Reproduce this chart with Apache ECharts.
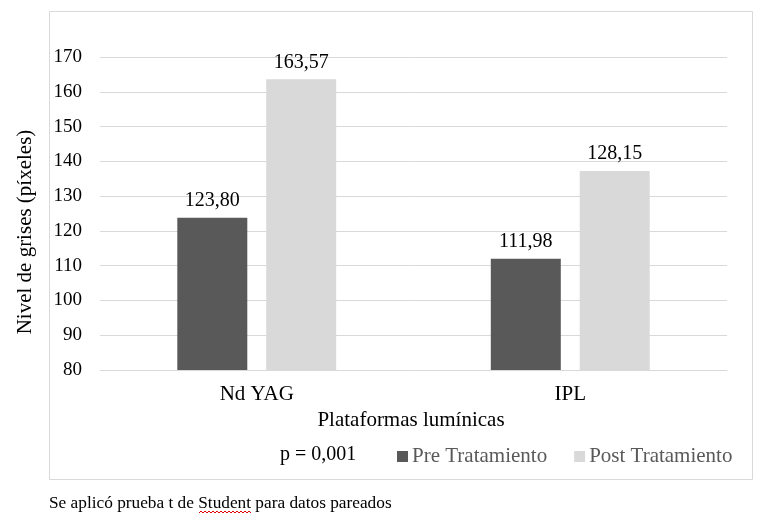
<!DOCTYPE html>
<html>
<head>
<meta charset="utf-8">
<script src="https://cdn.jsdelivr.net/npm/echarts@6/dist/echarts.min.js"></script>
<style>
  html, body { margin: 0; padding: 0; background: #fff; }
  #chart { width: 758px; height: 521px; }
</style>
</head>
<body>
<div id="chart"></div>
<script>
  // datos
  var categories = ['Nd YAG', 'IPL'];
  var preValues = [123.80, 111.98];
  var postValues = [163.57, 137.2];   // altura dibujada de la barra
  var preLabels = ['123,80', '111,98'];
  var postLabels = ['163,57', '128,15'];
  var seriesNames = ['Pre Tratamiento', 'Post Tratamiento'];
  var yTicks = [80, 90, 100, 110, 120, 130, 140, 150, 160, 170];

  var font = '"Liberation Serif", "Times New Roman", serif';

  // subrayado ondulado rojo (corrector ortográfico) bajo "Student"
  var wave = [];
  for (var i = 0; i <= 26; i++) {
    wave.push([199 + i * 2, i % 2 === 0 ? 513 : 511]);
  }

  var myChart = echarts.init(document.getElementById('chart'));
  myChart.setOption({
    backgroundColor: '#fff',
    animation: false,
    color: ['#595959', '#d9d9d9'],
    textStyle: { fontFamily: font },
    grid: {
      left: 100,
      right: 31,
      top: 57,
      bottom: 151
    },
    legend: {
      data: seriesNames,
      left: 392,
      top: 441,
      itemWidth: 11,
      itemHeight: 11,
      itemGap: 27,
      icon: 'rect',
      textStyle: { fontFamily: font, fontSize: 21, color: '#595959', padding: [0, 0, 0, -1] }
    },
    xAxis: {
      type: 'category',
      data: categories,
      name: 'Plataformas lumínicas',
      nameLocation: 'middle',
      nameGap: 34,
      nameTextStyle: { fontFamily: font, fontSize: 21, color: '#000', padding: [0, 5, 0, 0] },
      axisLine: { show: true, lineStyle: { color: '#d9d9d9' } },
      axisTick: { show: false },
      axisLabel: { fontFamily: font, fontSize: 21, color: '#000', margin: 14 }
    },
    yAxis: {
      type: 'value',
      min: yTicks[0],
      max: yTicks[yTicks.length - 1],
      interval: 10,
      axisLine: { show: false },
      axisTick: { show: false },
      splitLine: { lineStyle: { color: '#d9d9d9' } },
      axisLabel: { fontFamily: font, fontSize: 19, color: '#000', margin: 18 }
    },
    series: [
      {
        name: seriesNames[0],
        type: 'bar',
        data: preValues,
        barWidth: 70,
        barGap: '27%',
        label: {
          show: true,
          position: 'top',
          distance: 7,
          fontFamily: font,
          fontSize: 20,
          color: '#000',
          formatter: function (p) { return preLabels[p.dataIndex]; }
        }
      },
      {
        name: seriesNames[1],
        type: 'bar',
        data: postValues,
        barWidth: 70,
        barGap: '27%',
        label: {
          show: true,
          position: 'top',
          distance: 7,
          fontFamily: font,
          fontSize: 20,
          color: '#000',
          formatter: function (p) { return postLabels[p.dataIndex]; }
        }
      }
    ],
    graphic: [
      {
        type: 'rect',
        shape: { x: 49.5, y: 11.5, width: 703, height: 468 },
        style: { fill: 'none', stroke: '#d9d9d9', lineWidth: 1 },
        silent: true
      },
      {
        type: 'text',
        x: 25,
        y: 232,
        rotation: Math.PI / 2,
        style: {
          text: 'Nivel de grises (píxeles)',
          fontFamily: font,
          fontSize: 21,
          fill: '#000',
          align: 'center',
          verticalAlign: 'middle'
        }
      },
      {
        type: 'text',
        x: 280,
        y: 455,
        style: {
          text: 'p = 0,001',
          fontFamily: font,
          fontSize: 20,
          fill: '#000',
          verticalAlign: 'middle'
        }
      },
      {
        type: 'text',
        x: 49,
        y: 503,
        style: {
          text: 'Se aplicó prueba t de Student para datos pareados',
          fontFamily: font,
          fontSize: 17.3,
          fill: '#000',
          verticalAlign: 'middle'
        }
      },
      {
        type: 'polyline',
        shape: { points: wave },
        style: { stroke: '#e00000', lineWidth: 1, fill: 'none' },
        silent: true
      }
    ]
  });
</script>
</body>
</html>
